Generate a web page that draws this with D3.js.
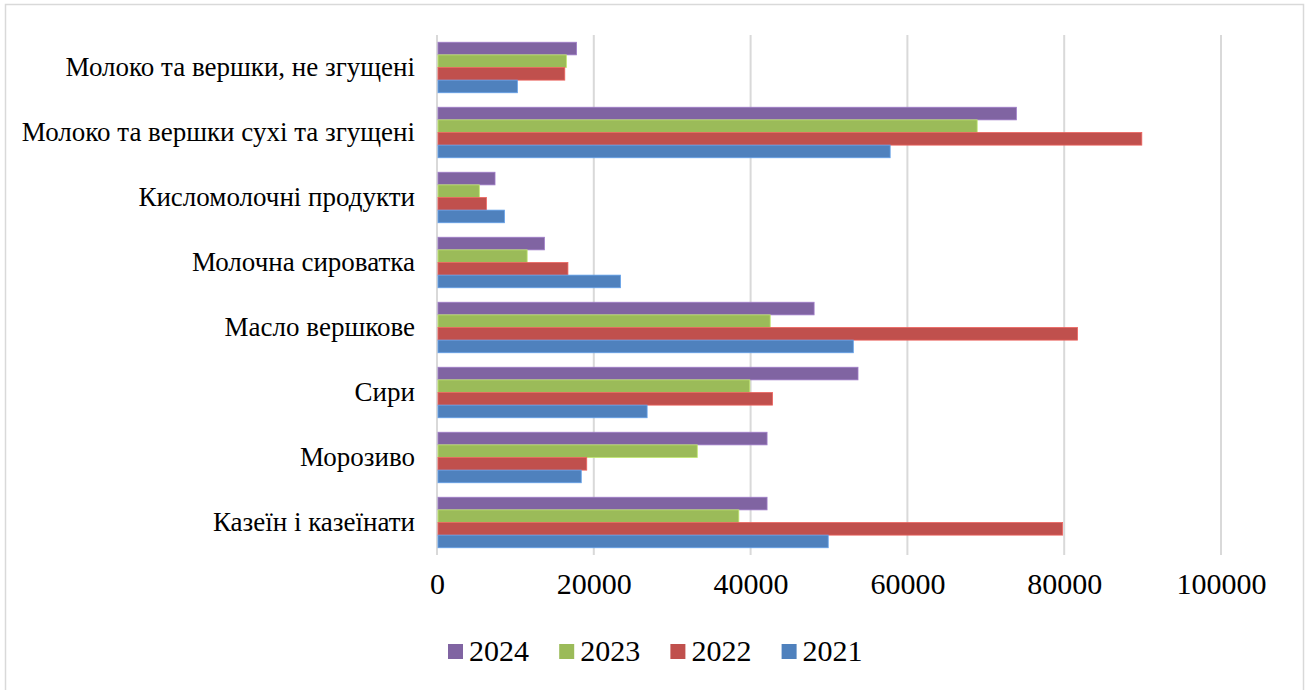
<!DOCTYPE html>
<html>
<head>
<meta charset="utf-8">
<script src="https://cdn.jsdelivr.net/npm/d3@7"></script>
<style>
  html, body { margin: 0; padding: 0; background: #fff; }
  svg { display: block; }
  text { font-family: "Liberation Serif", "Times New Roman", serif; fill: #000; }
</style>
</head>
<body>
<svg id="chart" width="1308" height="690"></svg>
<script>
// Product categories, top to bottom
const categories = [
  "Молоко та вершки, не згущені",
  "Молоко та вершки сухі та згущені",
  "Кисломолочні продукти",
  "Молочна сироватка",
  "Масло вершкове",
  "Сири",
  "Морозиво",
  "Казеїн і казеїнати"
];

// Values per year, in category order
const values2021 = [10250, 57800, 8600, 23400, 53100, 26800, 18400, 49900];
const values2022 = [16300, 89900, 6300, 16700, 81700, 42800, 19100, 79800];
const values2023 = [16500, 68900, 5400, 11500, 42500, 39900, 33200, 38500];
const values2024 = [17800, 73900, 7400, 13700, 48100, 53700, 42100, 42100];

// Order of bars within each group (top to bottom) and in the legend
const years = ["2024", "2023", "2022", "2021"];
const seriesValues = { "2021": values2021, "2022": values2022, "2023": values2023, "2024": values2024 };
const seriesColors = { "2024": "#8064A2", "2023": "#9BBB59", "2022": "#C0504D", "2021": "#4F81BD" };

const xTicks = [0, 20000, 40000, 60000, 80000, 100000];

const svg = d3.select("#chart");

// Outer chart frame
svg.append("rect")
  .attr("x", 5.5).attr("y", 4.5)
  .attr("width", 1298).attr("height", 690)
  .attr("fill", "#fff")
  .attr("stroke", "#d9d9d9")
  .attr("stroke-width", 1.5);

const x = d3.scaleLinear().domain([0, 100000]).range([437, 1221]);
const y = d3.scaleBand().domain(categories).range([35, 555])
  .paddingInner(0.223).paddingOuter(0.1115);
const yInner = d3.scaleBand().domain(years).range([0, y.bandwidth()]);

// Vertical gridlines
svg.append("g").selectAll("line")
  .data(xTicks)
  .join("line")
  .attr("x1", d => x(d)).attr("x2", d => x(d))
  .attr("y1", 35).attr("y2", 555)
  .attr("stroke", "#d9d9d9")
  .attr("stroke-width", 2);

// Bars
const groups = svg.append("g").selectAll("g")
  .data(categories)
  .join("g")
  .attr("transform", d => `translate(0,${y(d)})`);

groups.selectAll("rect")
  .data((c, i) => years.map(yr => ({ year: yr, value: seriesValues[yr][i] })))
  .join("rect")
  .attr("x", x(0) + 1)
  .attr("y", d => yInner(d.year))
  .attr("width", d => x(d.value) - x(0) - 1)
  .attr("height", yInner.bandwidth())
  .attr("fill", d => seriesColors[d.year])
  .attr("stroke", d => d3.color(seriesColors[d.year]).brighter(0.6))
  .attr("stroke-width", 0.8);

// Category labels
const yAxis = d3.axisLeft(y).tickSize(0).tickPadding(22);
const yAxisG = svg.append("g")
  .attr("transform", `translate(${x(0)},0)`)
  .call(yAxis);
yAxisG.select(".domain").remove();
yAxisG.selectAll("text")
  .style("font-family", '"Liberation Serif", "Times New Roman", serif')
  .attr("font-size", 27)
  .attr("fill", "#000");

// Value axis labels
const xAxis = d3.axisBottom(x).tickValues(xTicks).tickSize(0).tickPadding(0)
  .tickFormat(d3.format("d"));
const xAxisG = svg.append("g")
  .attr("transform", "translate(0,573)")
  .call(xAxis);
xAxisG.select(".domain").remove();
xAxisG.selectAll("text")
  .style("font-family", '"Liberation Serif", "Times New Roman", serif')
  .attr("font-size", 30)
  .attr("fill", "#000");

// Legend
const legend = svg.append("g").attr("transform", "translate(448,644)");
const item = legend.selectAll("g")
  .data(years)
  .join("g")
  .attr("transform", (d, i) => `translate(${i * 111.2},0)`);
item.append("rect")
  .attr("width", 15).attr("height", 15)
  .attr("fill", d => seriesColors[d]);
item.append("text")
  .attr("x", 21).attr("y", 17)
  .attr("font-size", 30)
  .text(d => d);
</script>
</body>
</html>
